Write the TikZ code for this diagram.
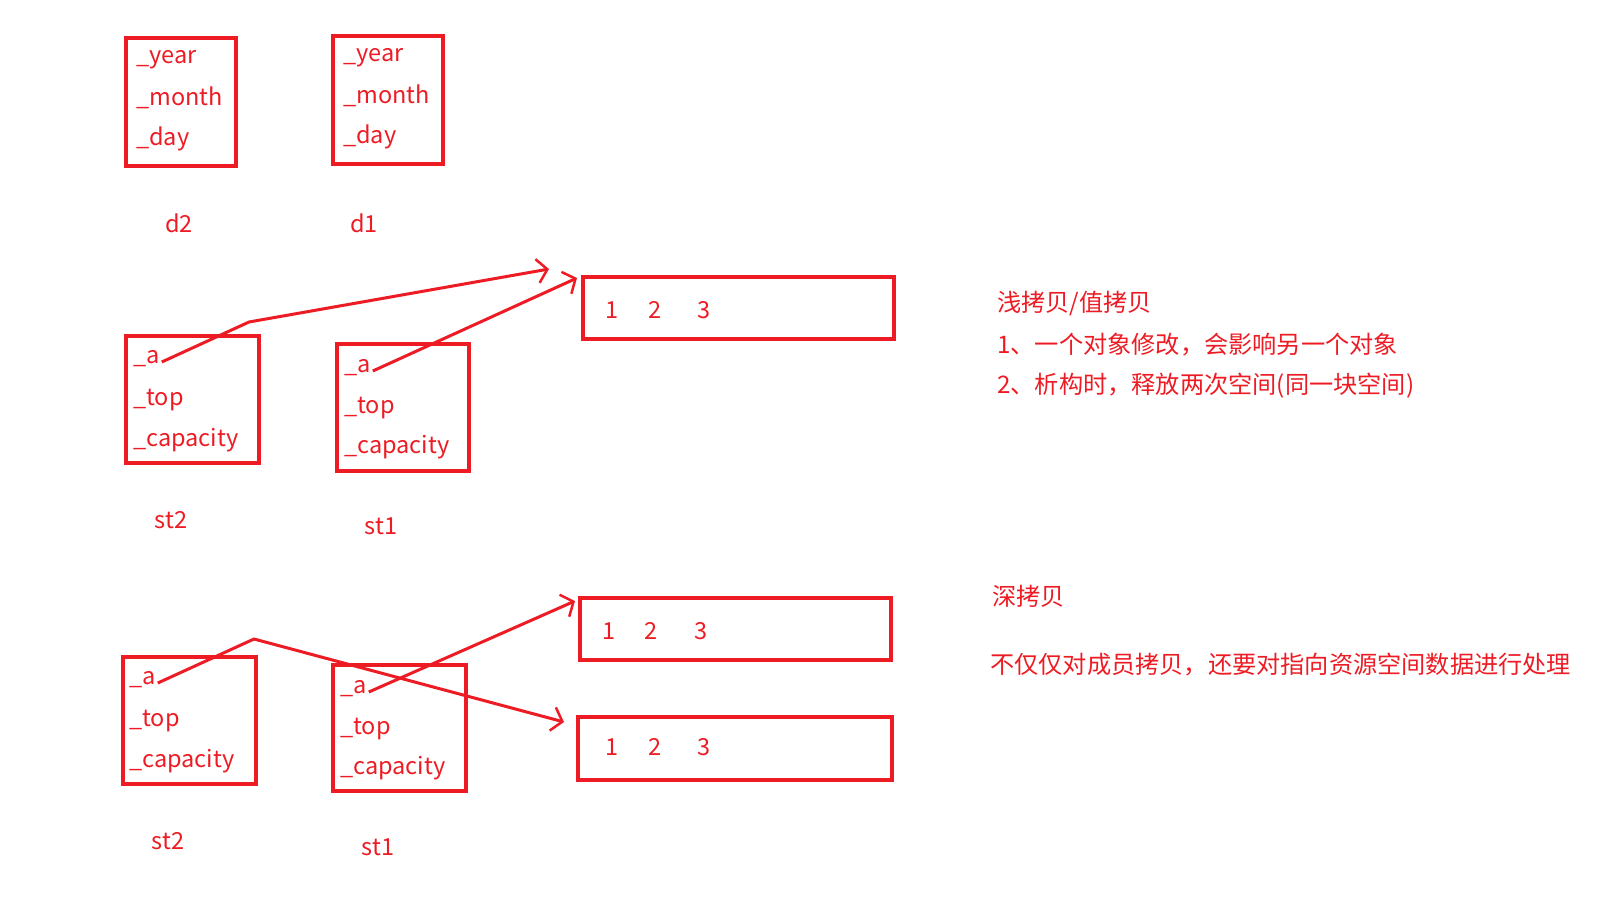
\documentclass[tikz,border=0pt]{standalone}
\usepackage{fontspec}
\setmainfont{Noto Sans CJK SC}
\usetikzlibrary{arrows.meta}
\definecolor{pen}{RGB}{237,28,36}
\tikzset{
  box/.style={draw=pen, line width=3.5pt, inner sep=0pt},
  field/.style={anchor=west, inner sep=0pt, text=pen, font=\fontsize{23.5pt}{28pt}\selectfont, text height=17pt, text depth=5pt},
  lbl/.style={inner sep=0pt, text=pen, font=\fontsize{23.5pt}{28pt}\selectfont},
  note/.style={anchor=west, inner sep=0pt, text=pen, font=\fontsize{24.2pt}{29pt}\selectfont},
  ptr/.style={draw=pen, line width=3pt, line join=round, -{Straight Barb[length=10pt,width=24pt,line width=2.5pt]}}
}
\begin{document}
\begin{tikzpicture}[x=1pt,y=-1pt]
\useasboundingbox (0,0) rectangle (1624,900);

% d2 / d1
\node[box, minimum width=110pt, minimum height=128pt] (d2) at (181,102) {};
\node[box, minimum width=110pt, minimum height=128pt] (d1) at (388,100) {};
\node[field] (d2y) at (136,57) {\_year};
\node[field] (d2m) at (136,99) {\_month};
\node[field] (d2d) at (136,139) {\_day};
\node[field] (d1y) at (343,55) {\_year};
\node[field] (d1m) at (343,97) {\_month};
\node[field] (d1d) at (343,137) {\_day};
\node[lbl] (d2l) at (179,223) {d2};
\node[lbl] (d1l) at (364,223) {d1};

% shallow copy
\node[box, minimum width=311pt, minimum height=62pt] (sarr) at (738.5,308) {};
\node[lbl] (sn1) at (612,310) {1};
\node[lbl] (sn2) at (655,310) {2};
\node[lbl] (sn3) at (704,310) {3};
\node[box, minimum width=133pt, minimum height=127pt] (sst2) at (192.5,399.5) {};
\node[box, minimum width=132pt, minimum height=127pt] (sst1) at (403,407.5) {};
\node[field] (sa2) at (133,357) {\_a};
\node[field] (st2) at (133,399) {\_top};
\node[field] (sc2) at (133,440) {\_capacity};
\node[field] (sa1) at (344,366) {\_a};
\node[field] (st1) at (344,407) {\_top};
\node[field] (sc1) at (344,447) {\_capacity};
\node[lbl] (sst2l) at (171,520) {st2};
\node[lbl] (sst1l) at (381,526) {st1};
\coordinate (sbend) at (249,322);
\coordinate (stip2) at (549,269);
\coordinate (stip1) at (577,278);
\draw[ptr] ([xshift=2pt,yshift=-5pt]sa2.east) -- (sbend) -- (stip2);
\draw[ptr] ([xshift=2pt,yshift=-5pt]sa1.east) -- (stip1);

% deep copy
\node[box, minimum width=311pt, minimum height=62pt] (darr1) at (735.5,629) {};
\node[lbl] (dn11) at (609,631) {1};
\node[lbl] (dn12) at (651,631) {2};
\node[lbl] (dn13) at (701,631) {3};
\node[box, minimum width=314pt, minimum height=63pt] (darr2) at (735,748.5) {};
\node[lbl] (dn21) at (612,747) {1};
\node[lbl] (dn22) at (655,747) {2};
\node[lbl] (dn23) at (704,747) {3};
\node[box, minimum width=133pt, minimum height=127pt] (dst2) at (189.5,720.5) {};
\node[box, minimum width=133pt, minimum height=126pt] (dst1) at (399.5,728) {};
\node[field] (da2) at (129,678) {\_a};
\node[field] (dt2) at (129,720) {\_top};
\node[field] (dc2) at (129,761) {\_capacity};
\node[field] (da1) at (340,687) {\_a};
\node[field] (dt1) at (340,728) {\_top};
\node[field] (dc1) at (340,768) {\_capacity};
\node[lbl] (dst2l) at (168,841) {st2};
\node[lbl] (dst1l) at (378,847) {st1};
\coordinate (dbend) at (254,639);
\coordinate (dtip2) at (564,722);
\coordinate (dtip1) at (575,601);
\draw[ptr] ([xshift=2pt,yshift=-5pt]da2.east) -- (dbend) -- (dtip2);
\draw[ptr] ([xshift=2pt,yshift=-5pt]da1.east) -- (dtip1);

% notes
\node[note] (n1) at (997,303) {浅拷贝/值拷贝};
\node[note] (n2) at (997,345) {1、一个对象修改，会影响另一个对象};
\node[note] (n3) at (997,386) {2、析构时，释放两次空间(同一块空间)};
\node[note] (n4) at (992,596) {深拷贝};
\node[note] (n5) at (990,665) {不仅仅对成员拷贝，还要对指向资源空间数据进行处理};
\end{tikzpicture}
\end{document}
